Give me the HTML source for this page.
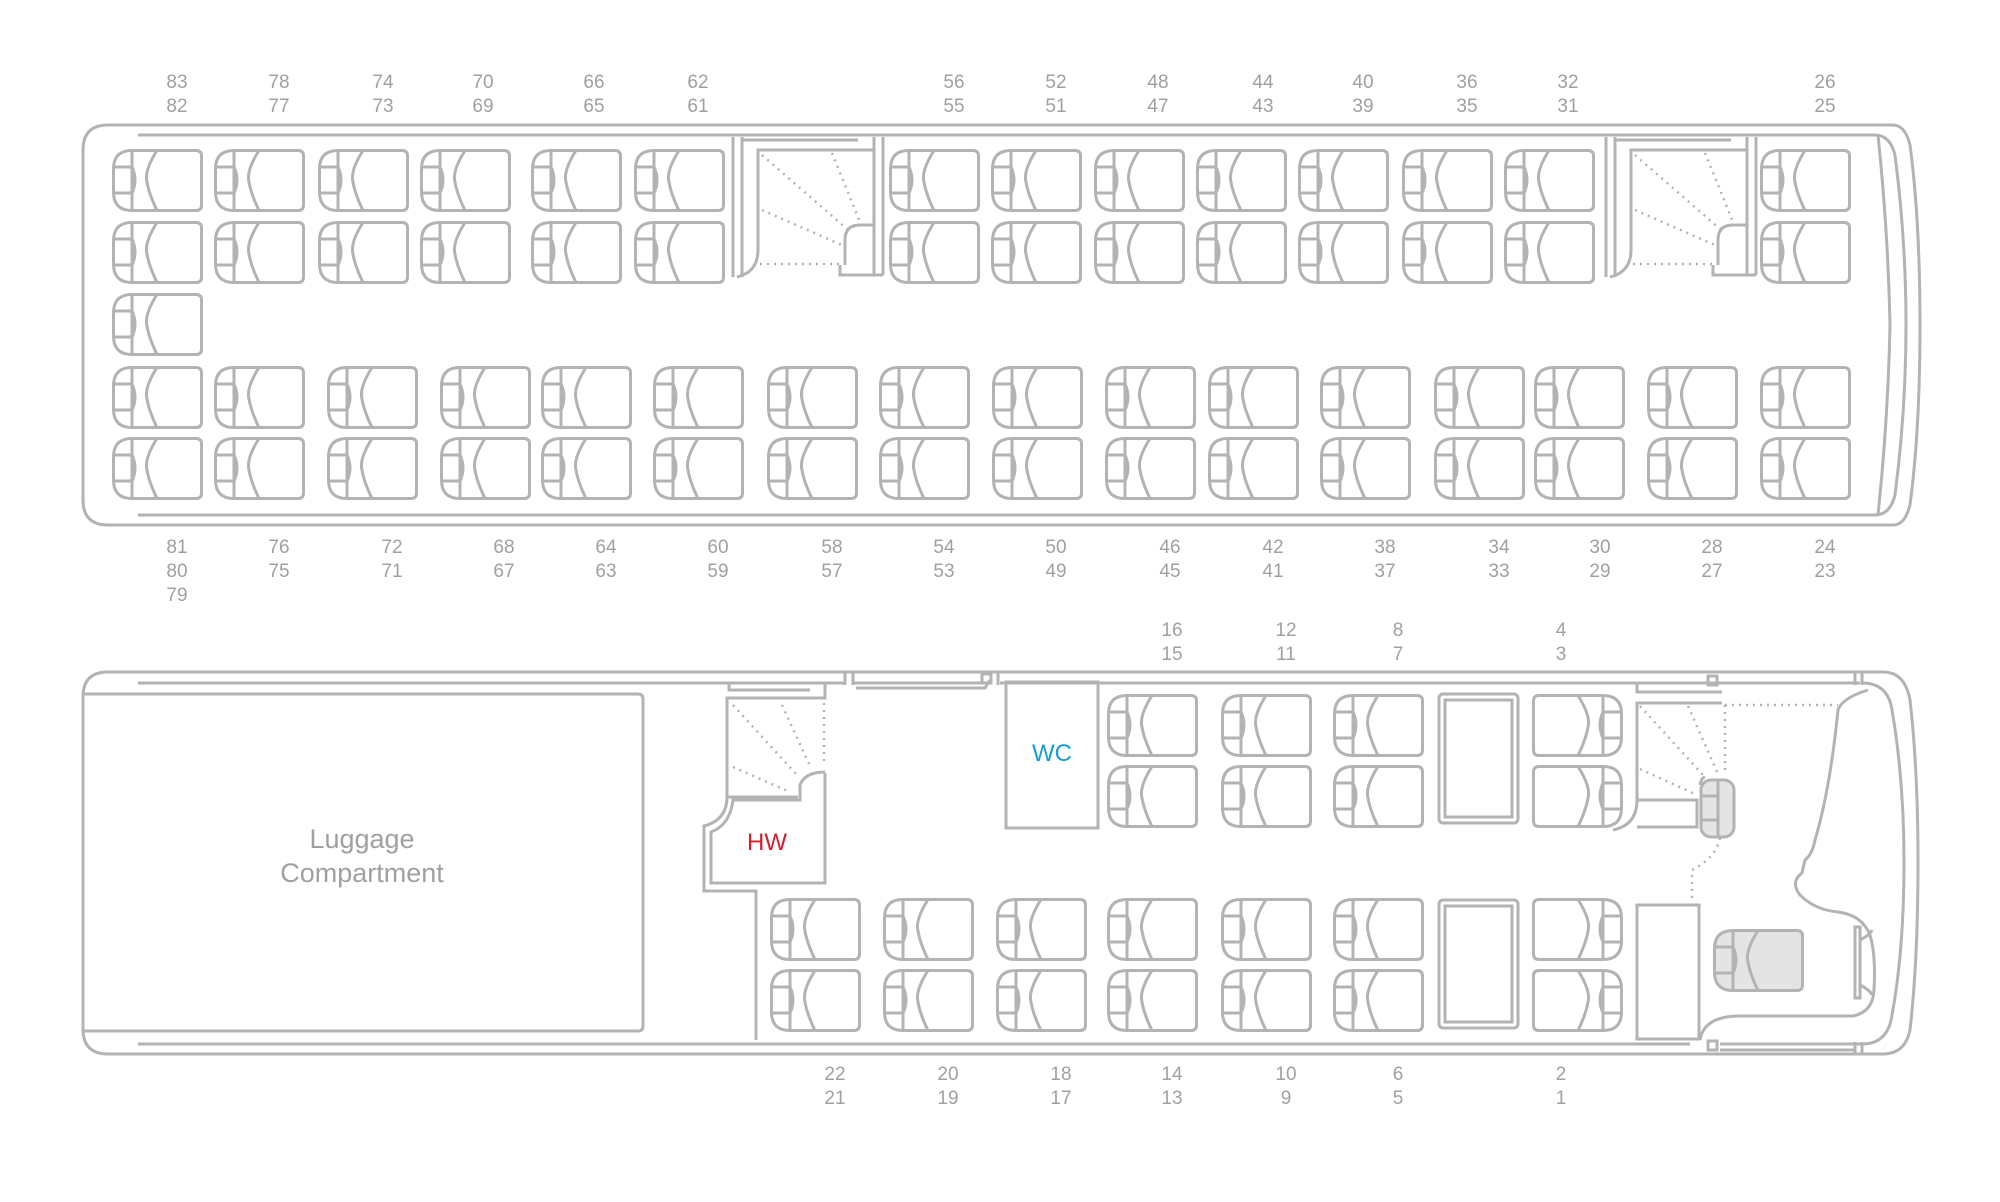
<!DOCTYPE html>
<html><head><meta charset="utf-8"><style>
html,body{margin:0;padding:0;background:#fff}
svg{display:block}
text{font-family:"Liberation Sans",sans-serif;fill:#a0a0a0;font-size:19px;text-anchor:middle}
</style></head><body>
<svg width="2000" height="1202" viewBox="0 0 2000 1202" xmlns="http://www.w3.org/2000/svg">
<defs>
<g id="s" fill="none" stroke="#b3b3b3" stroke-width="3">
<path d="M20,1.5 H84 Q89.5,1.5 89.5,7 V56 Q89.5,61.5 84,61.5 H20 Q1.5,61.5 1.5,43 V20 Q1.5,1.5 20,1.5 Z"/>
<line x1="20" y1="1.5" x2="20" y2="61.5"/>
<line x1="1.5" y1="18" x2="20" y2="18"/><line x1="1.5" y1="44" x2="20" y2="44"/>
<path d="M20,18 Q26,31 20,44"/>
<path d="M45,1.5 Q32,22 35,33 Q37,45 45,61.5"/>
</g>
<g id="sg" fill="#e4e4e4" stroke="#b3b3b3" stroke-width="3">
<path d="M20,1.5 H84 Q89.5,1.5 89.5,7 V56 Q89.5,61.5 84,61.5 H20 Q1.5,61.5 1.5,43 V20 Q1.5,1.5 20,1.5 Z"/>
<g fill="none"><line x1="20" y1="1.5" x2="20" y2="61.5"/>
<line x1="1.5" y1="18" x2="20" y2="18"/><line x1="1.5" y1="44" x2="20" y2="44"/>
<path d="M20,18 Q26,31 20,44"/><path d="M45,1.5 Q32,22 35,33 Q37,45 45,61.5"/></g>
</g>
<g id="st" fill="none" stroke="#b3b3b3" stroke-width="3">
<line x1="733" y1="137" x2="733" y2="277"/><line x1="742" y1="137" x2="742" y2="277"/>
<line x1="742" y1="140" x2="858" y2="140"/>
<path d="M874,265 V150 H758 V250 Q758,272 737,277"/>
<line x1="874" y1="137" x2="874" y2="275"/><line x1="883" y1="137" x2="883" y2="275"/>
<path d="M845,265 V240 Q845,225 860,225 H874"/>
<path d="M840,265 V275 H883"/>
<g stroke-dasharray="2 5" stroke-width="2.5">
<line x1="762" y1="155" x2="847" y2="229"/><line x1="832" y1="153" x2="860" y2="222"/>
<line x1="762" y1="210" x2="844" y2="246"/><line x1="760" y1="264" x2="840" y2="264"/>
</g>
</g>
</defs>

<!-- TOP DECK -->
<g fill="none" stroke="#b3b3b3" stroke-width="3">
<path d="M1893,125 H108 Q83,125 83,150 V500 Q83,525 108,525 H1893 Q1905,525 1910,505 Q1920,430 1920,325 Q1920,220 1910,145 Q1905,125 1893,125 Z"/>
<line x1="138" y1="135" x2="1875" y2="135"/>
<line x1="138" y1="515" x2="1875" y2="515"/>
<path d="M1875,135 Q1890,135 1895,155 Q1906,240 1906,325 Q1906,410 1895,495 Q1890,515 1875,515"/>
<path d="M1878,135 Q1888,230 1890,325 Q1888,420 1878,515"/>
</g>
<use href="#st"/><use href="#st" transform="translate(873,0)"/>

<g>
<!-- row1,2 -->
<use href="#s" x="112" y="149"/><use href="#s" x="214" y="149"/><use href="#s" x="318" y="149"/><use href="#s" x="420" y="149"/><use href="#s" x="531" y="149"/><use href="#s" x="634" y="149"/>
<use href="#s" x="889" y="149"/><use href="#s" x="991" y="149"/><use href="#s" x="1094" y="149"/><use href="#s" x="1196" y="149"/><use href="#s" x="1298" y="149"/><use href="#s" x="1402" y="149"/><use href="#s" x="1504" y="149"/><use href="#s" x="1760" y="149"/>
<use href="#s" x="112" y="221"/><use href="#s" x="214" y="221"/><use href="#s" x="318" y="221"/><use href="#s" x="420" y="221"/><use href="#s" x="531" y="221"/><use href="#s" x="634" y="221"/>
<use href="#s" x="889" y="221"/><use href="#s" x="991" y="221"/><use href="#s" x="1094" y="221"/><use href="#s" x="1196" y="221"/><use href="#s" x="1298" y="221"/><use href="#s" x="1402" y="221"/><use href="#s" x="1504" y="221"/><use href="#s" x="1760" y="221"/>
<use href="#s" x="112" y="293"/>
<!-- rows 4,5 -->
<use href="#s" x="112" y="366"/><use href="#s" x="214" y="366"/><use href="#s" x="327" y="366"/><use href="#s" x="440" y="366"/><use href="#s" x="541" y="366"/><use href="#s" x="653" y="366"/><use href="#s" x="767" y="366"/><use href="#s" x="879" y="366"/><use href="#s" x="992" y="366"/><use href="#s" x="1105" y="366"/><use href="#s" x="1208" y="366"/><use href="#s" x="1320" y="366"/><use href="#s" x="1434" y="366"/><use href="#s" x="1534" y="366"/><use href="#s" x="1647" y="366"/><use href="#s" x="1760" y="366"/>
<use href="#s" x="112" y="437"/><use href="#s" x="214" y="437"/><use href="#s" x="327" y="437"/><use href="#s" x="440" y="437"/><use href="#s" x="541" y="437"/><use href="#s" x="653" y="437"/><use href="#s" x="767" y="437"/><use href="#s" x="879" y="437"/><use href="#s" x="992" y="437"/><use href="#s" x="1105" y="437"/><use href="#s" x="1208" y="437"/><use href="#s" x="1320" y="437"/><use href="#s" x="1434" y="437"/><use href="#s" x="1534" y="437"/><use href="#s" x="1647" y="437"/><use href="#s" x="1760" y="437"/>
</g>

<!-- top labels -->
<g>
<text x="177" y="88">83</text><text x="177" y="112">82</text>
<text x="279" y="88">78</text><text x="279" y="112">77</text>
<text x="383" y="88">74</text><text x="383" y="112">73</text>
<text x="483" y="88">70</text><text x="483" y="112">69</text>
<text x="594" y="88">66</text><text x="594" y="112">65</text>
<text x="698" y="88">62</text><text x="698" y="112">61</text>
<text x="954" y="88">56</text><text x="954" y="112">55</text>
<text x="1056" y="88">52</text><text x="1056" y="112">51</text>
<text x="1158" y="88">48</text><text x="1158" y="112">47</text>
<text x="1263" y="88">44</text><text x="1263" y="112">43</text>
<text x="1363" y="88">40</text><text x="1363" y="112">39</text>
<text x="1467" y="88">36</text><text x="1467" y="112">35</text>
<text x="1568" y="88">32</text><text x="1568" y="112">31</text>
<text x="1825" y="88">26</text><text x="1825" y="112">25</text>
</g>
<g>
<text x="177" y="553">81</text><text x="177" y="577">80</text><text x="177" y="601">79</text>
<text x="279" y="553">76</text><text x="279" y="577">75</text>
<text x="392" y="553">72</text><text x="392" y="577">71</text>
<text x="504" y="553">68</text><text x="504" y="577">67</text>
<text x="606" y="553">64</text><text x="606" y="577">63</text>
<text x="718" y="553">60</text><text x="718" y="577">59</text>
<text x="832" y="553">58</text><text x="832" y="577">57</text>
<text x="944" y="553">54</text><text x="944" y="577">53</text>
<text x="1056" y="553">50</text><text x="1056" y="577">49</text>
<text x="1170" y="553">46</text><text x="1170" y="577">45</text>
<text x="1273" y="553">42</text><text x="1273" y="577">41</text>
<text x="1385" y="553">38</text><text x="1385" y="577">37</text>
<text x="1499" y="553">34</text><text x="1499" y="577">33</text>
<text x="1600" y="553">30</text><text x="1600" y="577">29</text>
<text x="1712" y="553">28</text><text x="1712" y="577">27</text>
<text x="1825" y="553">24</text><text x="1825" y="577">23</text>
</g>

<!-- LOWER DECK -->
<g fill="none" stroke="#b3b3b3" stroke-width="3">
<path d="M1883,672 H108 Q83,672 83,697 V1029 Q83,1054 108,1054 H1883 Q1905,1054 1910,1030 Q1918,960 1918,862 Q1918,770 1910,700 Q1905,672 1883,672 Z"/>
<line x1="138" y1="683" x2="845" y2="683"/>
<line x1="845" y1="672" x2="845" y2="685"/><line x1="853" y1="672" x2="853" y2="685"/>
<path d="M853,683 H982 M856,688 H985 L990,680"/>
<rect x="982" y="674" width="9" height="9"/>
<line x1="998" y1="672" x2="998" y2="685"/>
<line x1="1000" y1="683" x2="1860" y2="683"/>
<line x1="1855" y1="672" x2="1855" y2="685"/><line x1="1862" y1="672" x2="1862" y2="685"/>
<rect x="1708" y="676" width="9" height="9"/>
<line x1="138" y1="1044" x2="1690" y2="1044"/>
<line x1="1720" y1="1044" x2="1862" y2="1044"/>
<line x1="1720" y1="1050" x2="1855" y2="1050"/>
<rect x="1708" y="1041" width="9" height="9"/>
<line x1="1855" y1="1042" x2="1855" y2="1054"/><line x1="1862" y1="1042" x2="1862" y2="1054"/>
<path d="M1862,683 Q1888,683 1892,710 Q1904,780 1904,862 Q1904,950 1892,1015 Q1888,1044 1862,1044"/>
<!-- luggage -->
<path d="M83,694 H638 Q643,694 643,699 V1026 Q643,1031 638,1031 H83"/>
<!-- HW / stair lower left -->
<path d="M729,683 V690 H810 M825,683 V698 H727 V797 Q727,820 704,826 V891 H756 V1040"/>
<path d="M825,773 V883 H711 V832 Q730,825 733,800 H800 V785 Q805,772 825,772"/>
<path d="M727,797 H798"/>
<g stroke-dasharray="2 5" stroke-width="2.5">
<line x1="733" y1="705" x2="797" y2="775"/><line x1="782" y1="705" x2="810" y2="766"/>
<line x1="824" y1="703" x2="824" y2="764"/><line x1="733" y1="767" x2="790" y2="792"/>
</g>
<!-- WC -->
<rect x="1006" y="682" width="92" height="146"/>
<!-- tables -->
<rect x="1439" y="694" width="79" height="129" rx="4"/><rect x="1445" y="700" width="67" height="117"/>
<rect x="1439" y="900" width="79" height="128" rx="4"/><rect x="1445" y="906" width="67" height="116"/>
<!-- right stair -->
<path d="M1637,683 V692 H1722"/>
<path d="M1722,703 H1637 V800 Q1637,825 1613,830"/>
<path d="M1637,800 H1697 V827 H1637"/>
<g stroke-dasharray="2 5" stroke-width="2.5">
<line x1="1640" y1="706" x2="1703" y2="775"/><line x1="1688" y1="706" x2="1718" y2="774"/>
<line x1="1725" y1="705" x2="1725" y2="773"/><line x1="1640" y1="769" x2="1697" y2="795"/>
<path d="M1725,705 H1838"/>
<path d="M1720,838 Q1716,858 1692,870 V902"/>
</g>
<!-- driver block -->
<rect x="1637" y="905" width="62" height="134"/>
<path d="M1700,1040 Q1704,1016 1740,1016 H1853 Q1873,1012 1874,990 Q1876,955 1870,935 Q1862,915 1838,912 Q1815,910 1800,895 Q1790,882 1802,873 L1805,860 Q1812,855 1815,840 Q1830,790 1838,710 Q1842,698 1868,690"/>
<rect x="1855" y="927" width="5" height="71"/>
<path d="M1860,940 Q1870,935 1872,930 M1860,985 Q1870,990 1872,995"/>
</g>
<rect x="1701" y="780" width="33" height="57" rx="10" fill="#e4e4e4" stroke="#b3b3b3" stroke-width="3"/>
<path d="M1718,780 V837 M1701,796 H1718 M1701,820 H1718" stroke="#b3b3b3" stroke-width="3" fill="none"/>
<path d="M1705,778 Q1702,776 1700,785" stroke="#b3b3b3" stroke-width="3" fill="none"/>
<use href="#sg" x="1713" y="929"/>

<!-- lower seats -->
<g>
<use href="#s" x="1107" y="694"/><use href="#s" x="1221" y="694"/><use href="#s" x="1333" y="694"/>
<use href="#s" x="1107" y="765"/><use href="#s" x="1221" y="765"/><use href="#s" x="1333" y="765"/>
<use href="#s" transform="translate(1623,694) scale(-1,1)"/><use href="#s" transform="translate(1623,765) scale(-1,1)"/>
<use href="#s" x="770" y="898"/><use href="#s" x="883" y="898"/><use href="#s" x="996" y="898"/><use href="#s" x="1107" y="898"/><use href="#s" x="1221" y="898"/><use href="#s" x="1333" y="898"/>
<use href="#s" x="770" y="969"/><use href="#s" x="883" y="969"/><use href="#s" x="996" y="969"/><use href="#s" x="1107" y="969"/><use href="#s" x="1221" y="969"/><use href="#s" x="1333" y="969"/>
<use href="#s" transform="translate(1623,898) scale(-1,1)"/><use href="#s" transform="translate(1623,969) scale(-1,1)"/>
</g>

<text x="362" y="848" style="font-size:27px">Luggage</text>
<text x="362" y="882" style="font-size:27px">Compartment</text>
<text x="1052" y="761" style="font-size:24px;fill:#1a9bd7">WC</text>
<text x="767" y="850" style="font-size:24px;fill:#d0202e">HW</text>

<text x="1172" y="636">16</text><text x="1172" y="660">15</text>
<text x="1286" y="636">12</text><text x="1286" y="660">11</text>
<text x="1398" y="636">8</text><text x="1398" y="660">7</text>
<text x="1561" y="636">4</text><text x="1561" y="660">3</text>

<text x="835" y="1080">22</text><text x="835" y="1104">21</text>
<text x="948" y="1080">20</text><text x="948" y="1104">19</text>
<text x="1061" y="1080">18</text><text x="1061" y="1104">17</text>
<text x="1172" y="1080">14</text><text x="1172" y="1104">13</text>
<text x="1286" y="1080">10</text><text x="1286" y="1104">9</text>
<text x="1398" y="1080">6</text><text x="1398" y="1104">5</text>
<text x="1561" y="1080">2</text><text x="1561" y="1104">1</text>
</svg>
</body></html>
